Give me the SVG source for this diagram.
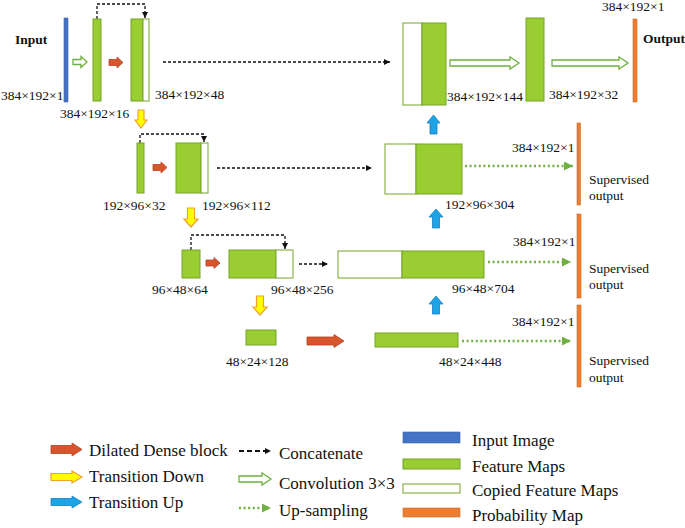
<svg xmlns="http://www.w3.org/2000/svg" width="685" height="528" viewBox="0 0 685 528">
<defs>
<style>
text{font-family:"Liberation Serif","Times New Roman",serif;fill:#111}
.lbl{font-size:13.5px}
.bold{font-size:13.5px;font-weight:bold}
.leg{font-size:17px}
.fm{fill:#9acd32;stroke:#74a52b;stroke-width:1}
.cp{fill:#fff;stroke:#74a52b;stroke-width:1}
.inp{fill:#4472c4;stroke:#3a62aa;stroke-width:0.6}
.prob{fill:#ed7d31;stroke:#d06a25;stroke-width:0.6}
.red{fill:#d6552d;stroke:#b8431f;stroke-width:0.8}
.yel{fill:#ffff00;stroke:#f0a030;stroke-width:1.2}
.blu{fill:#1ca4e6;stroke:#1a7fc0;stroke-width:0.8}
.conv{fill:#fff;stroke:#6fb040;stroke-width:1.3}
.cat{fill:none;stroke:#111;stroke-width:1.3;stroke-dasharray:3 2}
.ups{fill:none;stroke:#6fb040;stroke-width:2.4;stroke-dasharray:2 2.6}
</style>
<marker id="ah" viewBox="0 0 8 8" refX="8" refY="4" markerWidth="6" markerHeight="6" markerUnits="userSpaceOnUse" orient="auto">
<path d="M0 0 L8 4 L0 8 Z" fill="#111"/>
</marker>
<marker id="ahg" viewBox="0 0 8 8" refX="8" refY="4" markerWidth="9" markerHeight="9" markerUnits="userSpaceOnUse" orient="auto">
<path d="M0 0 L8 4 L0 8 Z" fill="#6fb040"/>
</marker>
</defs>
<rect width="685" height="528" fill="#fff"/>

<g id="connectors">
<path class="cat" d="M97 19 V4 H145 V18" marker-end="url(#ah)"/>
<path class="cat" d="M163 62 H390" marker-end="url(#ah)"/>
<path class="cat" d="M140 143 V134 H204 V142" marker-end="url(#ah)"/>
<path class="cat" d="M217 168 H372" marker-end="url(#ah)"/>
<path class="cat" d="M191 250 V235 H285 V249" marker-end="url(#ah)"/>
<path class="cat" d="M299 264 H328" marker-end="url(#ah)"/>
<path class="ups" d="M465 166 H573" marker-end="url(#ahg)"/>
<path class="ups" d="M488 262 H571" marker-end="url(#ahg)"/>
<path class="ups" d="M462 341 H571" marker-end="url(#ahg)"/>
<polygon class="conv" points="73,59.5 81,59.5 81,56.5 87,62 81,67.5 81,64.5 73,64.5"/>
<polygon class="conv" points="450,60 510,60 510,57 519,63 510,69 510,66 450,66"/>
<polygon class="conv" points="552,60 619,60 619,57 628,63 619,69 619,66 552,66"/>
<polygon class="red" points="109,59.5 117,59.5 117,57 123,62.5 117,68 117,65.5 109,65.5"/>
<polygon class="red" points="153,164.5 161,164.5 161,162 167,167.5 161,173 161,170.5 153,170.5"/>
<polygon class="red" points="206,260 214,260 214,257.5 220,263 214,268.5 214,266 206,266"/>
<polygon class="red" points="307,337 334,337 334,334.5 344,341 334,347.5 334,345 307,345"/>
<polygon class="yel" points="138,110 144,110 144,120 147,120 141,128 135,120 138,120"/>
<polygon class="yel" points="187.5,208 194.5,208 194.5,219 198,219 191,227 184,219 187.5,219"/>
<polygon class="yel" points="256.5,296 263.5,296 263.5,307 267,307 260,315 253,307 256.5,307"/>
<polygon class="blu" points="430,134 437,134 437,123 440,123 433.5,115 427,123 430,123"/>
<polygon class="blu" points="432.5,228 439.5,228 439.5,217 443,217 436,209 429,217 432.5,217"/>
<polygon class="blu" points="432.5,314 439.5,314 439.5,304 443,304 436,296 429,304 432.5,304"/>
</g>

<g id="input">
<rect class="inp" x="64" y="18" width="4" height="84"/>
<text class="bold" x="15" y="44">Input</text>
<text class="lbl" x="1" y="100">384×192×1</text>
</g>
<g id="fm-384x192x16">
<rect class="fm" x="93" y="19" width="8" height="82"/>
<text class="lbl" x="60" y="118">384×192×16</text>
</g>
<g id="fm-384x192x48">
<rect class="fm" x="131" y="19" width="12" height="82"/>
<rect class="cp" x="143" y="19" width="6" height="82"/>
<text class="lbl" x="155" y="99">384×192×48</text>
</g>
<g id="fm-384x192x144">
<rect class="cp" x="403" y="23" width="19" height="82"/>
<rect class="fm" x="422" y="23" width="24" height="82"/>
<text class="lbl" x="447" y="101">384×192×144</text>
</g>
<g id="fm-384x192x32">
<rect class="fm" x="526" y="18" width="18" height="83"/>
<text class="lbl" x="549" y="99">384×192×32</text>
</g>
<g id="output">
<rect class="prob" x="633" y="19" width="4" height="83"/>
<text class="lbl" x="602" y="11">384×192×1</text>
<text class="bold" x="643" y="43">Output</text>
</g>

<g id="fm-192x96x32">
<rect class="fm" x="137" y="143" width="7" height="50"/>
<text class="lbl" x="103" y="210">192×96×32</text>
</g>
<g id="fm-192x96x112">
<rect class="fm" x="176" y="143" width="25" height="50"/>
<rect class="cp" x="201" y="143" width="7" height="50"/>
<text class="lbl" x="202" y="210">192×96×112</text>
</g>
<g id="fm-192x96x304">
<rect class="cp" x="385" y="144" width="31" height="50"/>
<rect class="fm" x="416" y="144" width="46" height="50"/>
<text class="lbl" x="445" y="209">192×96×304</text>
</g>
<g id="sup-1">
<rect class="prob" x="577" y="123" width="3.5" height="82"/>
<text class="lbl" x="512" y="152">384×192×1</text>
<text class="lbl" x="589" y="184">Supervised</text>
<text class="lbl" x="589" y="200">output</text>
</g>

<g id="fm-96x48x64">
<rect class="fm" x="182" y="250" width="18" height="28"/>
<text class="lbl" x="152" y="294">96×48×64</text>
</g>
<g id="fm-96x48x256">
<rect class="fm" x="229" y="250" width="47" height="28"/>
<rect class="cp" x="276" y="250" width="17" height="28"/>
<text class="lbl" x="271" y="294">96×48×256</text>
</g>
<g id="fm-96x48x704">
<rect class="cp" x="338" y="251" width="64" height="27"/>
<rect class="fm" x="402" y="251" width="82" height="27"/>
<text class="lbl" x="452" y="293">96×48×704</text>
</g>
<g id="sup-2">
<rect class="prob" x="577" y="214" width="4" height="84"/>
<text class="lbl" x="513" y="246">384×192×1</text>
<text class="lbl" x="589" y="273">Supervised</text>
<text class="lbl" x="589" y="289">output</text>
</g>

<g id="fm-48x24x128">
<rect class="fm" x="246" y="330" width="30" height="15"/>
<text class="lbl" x="226" y="366">48×24×128</text>
</g>
<g id="fm-48x24x448">
<rect class="fm" x="375" y="333" width="83" height="14"/>
<text class="lbl" x="439" y="366">48×24×448</text>
</g>
<g id="sup-3">
<rect class="prob" x="577" y="305" width="4" height="82"/>
<text class="lbl" x="512" y="326">384×192×1</text>
<text class="lbl" x="589" y="365">Supervised</text>
<text class="lbl" x="589" y="382">output</text>
</g>

<g id="legend">
<polygon class="red" points="51,445.5 72,445.5 72,443 82,449.5 72,456 72,453.5 51,453.5"/>
<text class="leg" x="89" y="456">Dilated Dense block</text>
<polygon class="yel" points="51,473.5 72,473.5 72,471 82,477 72,483 72,480.5 51,480.5"/>
<text class="leg" x="89" y="482">Transition Down</text>
<polygon class="blu" points="51,498.5 72,498.5 72,496 82,502 72,508 72,505.5 51,505.5"/>
<text class="leg" x="89" y="508">Transition Up</text>
<path d="M239 451 H271" fill="none" stroke="#111" stroke-width="2" stroke-dasharray="5 3" marker-end="url(#ah)"/>
<text class="leg" x="279" y="459">Concatenate</text>
<polygon class="conv" points="239,476 262,476 262,473 271,479 262,485 262,482 239,482"/>
<text class="leg" x="279" y="489">Convolution 3×3</text>
<path class="ups" d="M239 508 H271" marker-end="url(#ahg)"/>
<text class="leg" x="279" y="516">Up-sampling</text>
<rect class="inp" x="403" y="432" width="57" height="11"/>
<text class="leg" x="472" y="446">Input Image</text>
<rect class="fm" x="403" y="459" width="57" height="10"/>
<text class="leg" x="472" y="472">Feature Maps</text>
<rect class="cp" x="403" y="484" width="57" height="9"/>
<text class="leg" x="472" y="496">Copied Feature Maps</text>
<rect class="prob" x="403" y="508" width="57" height="9"/>
<text class="leg" x="472" y="521">Probability Map</text>
</g>
</svg>
